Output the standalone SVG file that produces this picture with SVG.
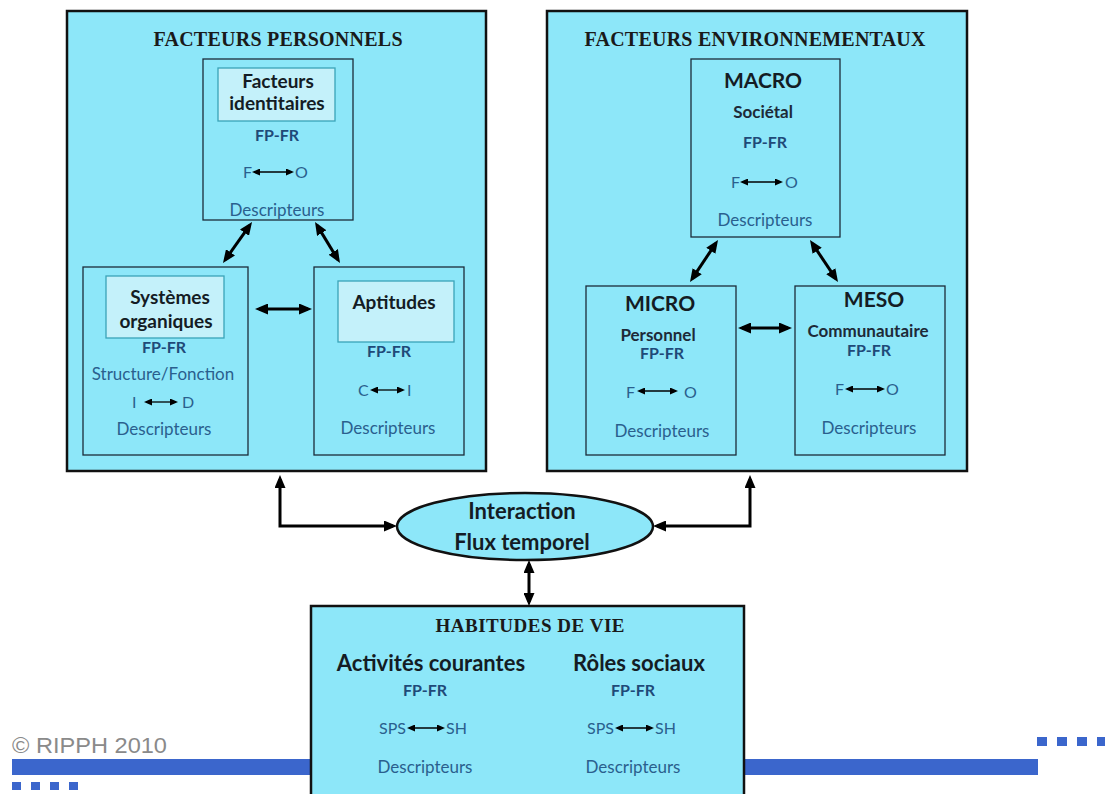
<svg xmlns="http://www.w3.org/2000/svg" width="1105" height="794" viewBox="0 0 1105 794">
<defs>
<style>
.big{fill:#8de7f9;stroke:#111;stroke-width:2.5}
.box{fill:#8de7f9;stroke:#1c2b3a;stroke-width:1.3}
.inner{fill:#c4f1fa;stroke:#3aa3b8;stroke-width:1.3}
.title{font-family:"Liberation Serif","Times New Roman",serif;font-weight:bold;font-size:20px;fill:#1a1a1a;text-anchor:middle}
.head{font-family:Lato,"Open Sans",sans-serif;font-weight:bold;font-size:19px;fill:#141c24;text-anchor:middle}
.big2{font-family:Lato,"Open Sans",sans-serif;font-weight:bold;font-size:21px;fill:#141c24;text-anchor:middle}
.mid{font-family:Lato,"Open Sans",sans-serif;font-weight:bold;font-size:22px;fill:#141c24;text-anchor:middle}
.sub{font-family:Lato,"Open Sans",sans-serif;font-weight:bold;font-size:17px;fill:#1d2a38;text-anchor:middle}
.fp{font-family:Lato,"Open Sans",sans-serif;font-weight:bold;font-size:16px;fill:#1f4a78;text-anchor:middle}
.reg{font-family:Lato,"Open Sans",sans-serif;font-size:17px;fill:#2a5f8e;text-anchor:middle}
.sm{font-family:Lato,"Open Sans",sans-serif;font-size:16px;fill:#2a5f8e}
.conn{fill:none;stroke:#000;stroke-width:3;marker-start:url(#ah);marker-end:url(#ah)}
.mini{fill:none;stroke:#000;stroke-width:1.3;marker-start:url(#sh);marker-end:url(#sh)}
.blue{fill:#3b66cc}
</style>
<marker id="ah" markerUnits="userSpaceOnUse" markerWidth="13" markerHeight="11" refX="9" refY="5.5" orient="auto-start-reverse" viewBox="0 0 13 11">
<path d="M0,0 L13,5.5 L0,11 z" fill="#000"/>
</marker>
<marker id="sh" markerUnits="userSpaceOnUse" markerWidth="8" markerHeight="7" refX="6" refY="3.5" orient="auto-start-reverse" viewBox="0 0 8 7">
<path d="M0,0 L8,3.5 L0,7 z" fill="#000"/>
</marker>
</defs>
<rect width="1105" height="794" fill="#fff"/>

<g id="footer">
<text x="12" y="753" font-family="Liberation Sans,Arial,sans-serif" font-size="22" fill="#8a8a8a" textLength="155" lengthAdjust="spacingAndGlyphs">© RIPPH 2010</text>
<rect class="blue" x="12" y="759" width="1026" height="16"/>
<rect class="blue" x="12" y="782" width="9" height="8"/>
<rect class="blue" x="31" y="782" width="9" height="8"/>
<rect class="blue" x="50" y="782" width="9" height="8"/>
<rect class="blue" x="69" y="782" width="9" height="8"/>
<rect class="blue" x="1037" y="737" width="10" height="9"/>
<rect class="blue" x="1057" y="737" width="10" height="9"/>
<rect class="blue" x="1077" y="737" width="10" height="9"/>
<rect class="blue" x="1097" y="737" width="10" height="9"/>
</g>

<g id="facteurs-personnels">
<rect class="big" x="67" y="11" width="419" height="460"/>
<text class="title" x="278" y="46" textLength="249" lengthAdjust="spacing">FACTEURS  PERSONNELS</text>
</g>

<g id="facteurs-identitaires">
<rect class="box" x="203" y="59" width="150" height="161"/>
<rect class="inner" x="218" y="68" width="117" height="53"/>
<text class="head" x="278" y="88">Facteurs</text>
<text class="head" x="277" y="110">identitaires</text>
<text class="fp" x="277" y="141">FP-FR</text>
<text class="sm" x="243" y="178">F</text>
<line class="mini" x1="254" y1="172" x2="292" y2="172"/>
<text class="sm" x="295" y="178">O</text>
<text class="reg" x="277" y="216">Descripteurs</text>
</g>

<g id="systemes-organiques">
<rect class="box" x="83" y="267" width="165" height="188"/>
<rect class="inner" x="106" y="276" width="118" height="62"/>
<text class="head" x="170" y="304">Systèmes</text>
<text class="head" x="166" y="328">organiques</text>
<text class="fp" x="164" y="353">FP-FR</text>
<text class="reg" x="163" y="380">Structure/Fonction</text>
<text class="sm" x="132" y="408">I</text>
<line class="mini" x1="146" y1="402" x2="176" y2="402"/>
<text class="sm" x="182" y="408">D</text>
<text class="reg" x="164" y="435">Descripteurs</text>
</g>

<g id="aptitudes">
<rect class="box" x="314" y="267" width="150" height="188"/>
<rect class="inner" x="338" y="281" width="116" height="61"/>
<text class="head" x="394" y="309">Aptitudes</text>
<text class="fp" x="389" y="357">FP-FR</text>
<text class="sm" x="358" y="396">C</text>
<line class="mini" x1="372" y1="390" x2="403" y2="390"/>
<text class="sm" x="407" y="396">I</text>
<text class="reg" x="388" y="434">Descripteurs</text>
</g>

<g id="facteurs-environnementaux">
<rect class="big" x="547" y="11" width="420" height="460"/>
<text class="title" x="755" y="46" textLength="341" lengthAdjust="spacing">FACTEURS  ENVIRONNEMENTAUX</text>
</g>

<g id="macro">
<rect class="box" x="691" y="59" width="149" height="178"/>
<text class="big2" x="763" y="88">MACRO</text>
<text class="sub" x="763" y="118">Sociétal</text>
<text class="fp" x="765" y="148">FP-FR</text>
<text class="sm" x="731" y="188">F</text>
<line class="mini" x1="742" y1="182" x2="781" y2="182"/>
<text class="sm" x="785" y="188">O</text>
<text class="reg" x="765" y="226">Descripteurs</text>
</g>

<g id="micro">
<rect class="box" x="586" y="286" width="150" height="169"/>
<text class="big2" x="660" y="311">MICRO</text>
<text class="sub" x="658" y="341">Personnel</text>
<text class="fp" x="662" y="359">FP-FR</text>
<text class="sm" x="626" y="398">F</text>
<line class="mini" x1="639" y1="391" x2="676" y2="391"/>
<text class="sm" x="684" y="398">O</text>
<text class="reg" x="662" y="437">Descripteurs</text>
</g>

<g id="meso">
<rect class="box" x="795" y="286" width="150" height="169"/>
<text class="big2" x="874" y="307">MESO</text>
<text class="sub" x="868" y="337">Communautaire</text>
<text class="fp" x="869" y="356">FP-FR</text>
<text class="sm" x="835" y="395">F</text>
<line class="mini" x1="847" y1="389" x2="883" y2="389"/>
<text class="sm" x="886" y="395">O</text>
<text class="reg" x="869" y="434">Descripteurs</text>
</g>

<g id="interaction">
<ellipse cx="525" cy="526.5" rx="128" ry="33.5" fill="#8de7f9" stroke="#111" stroke-width="2.5"/>
<text class="mid" x="522" y="519">Interaction</text>
<text class="mid" x="522" y="550">Flux temporel</text>
</g>

<g id="habitudes-de-vie">
<rect class="big" x="311" y="606" width="433" height="200"/>
<text class="title" x="530" y="632" style="font-size:19px" textLength="189" lengthAdjust="spacing">HABITUDES DE VIE</text>
<text class="mid" x="431" y="671">Activités courantes</text>
<text class="fp" x="425" y="696">FP-FR</text>
<text class="sm" x="379" y="734">SPS</text>
<line class="mini" x1="409" y1="728" x2="443" y2="728"/>
<text class="sm" x="446" y="734">SH</text>
<text class="reg" x="425" y="773">Descripteurs</text>
<text class="mid" x="639" y="671">Rôles sociaux</text>
<text class="fp" x="633" y="696">FP-FR</text>
<text class="sm" x="587" y="734">SPS</text>
<line class="mini" x1="617" y1="728" x2="652" y2="728"/>
<text class="sm" x="655" y="734">SH</text>
<text class="reg" x="633" y="773">Descripteurs</text>
</g>

<g id="connectors">
<line class="conn" x1="249.7" y1="225.3" x2="225.3" y2="259.7"/>
<line class="conn" x1="317.1" y1="225.4" x2="337.9" y2="259.6"/>
<line class="conn" x1="259" y1="309" x2="308" y2="309"/>
<line class="conn" x1="715.8" y1="243.3" x2="692.2" y2="278.7"/>
<line class="conn" x1="812.2" y1="243.3" x2="835.8" y2="278.7"/>
<line class="conn" x1="742" y1="328" x2="788" y2="328"/>
<path class="conn" d="M280,479 V526 H393"/>
<path class="conn" d="M750,479 V526 H657"/>
<line class="conn" x1="529" y1="564" x2="529" y2="602"/>
</g>
</svg>
